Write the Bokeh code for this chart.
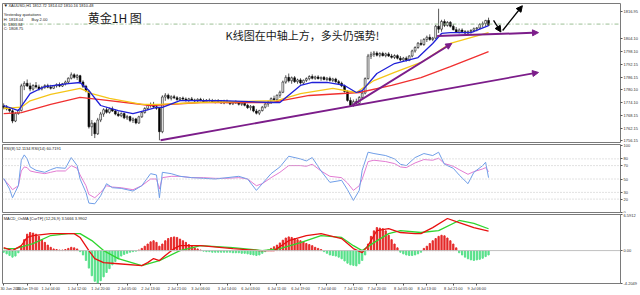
import numpy as np
from bokeh.plotting import figure
from bokeh.layouts import column
from bokeh.models import (Range1d, FixedTicker, PrintfTickFormatter, Span, Arrow,
                          NormalHead, Label, ColumnDataSource)
from bokeh.embed import file_html
from bokeh.resources import INLINE

# ---------------- data (XAUUSD H1) ----------------
open_ = [1772.5,1772.0,1771.2,1770.3,1765.5,1769.0,1770.5,1782.0,1783.2,1782.0,
         1780.5,1782.2,1781.5,1780.6,1781.3,1782.1,1781.4,1780.9,1782.0,1782.6,
         1781.9,1783.0,1783.8,1785.6,1787.2,1786.0,1786.8,1783.8,1781.8,1779.6,
         1762.8,1764.5,1759.5,1766.0,1768.8,1770.8,1769.6,1771.2,1770.2,1768.8,
         1768.0,1769.0,1767.0,1767.6,1765.8,1766.5,1764.6,1767.5,1769.5,1771.4,
         1772.8,1773.2,1772.2,1771.5,1760.5,1776.8,1777.6,1776.2,1776.9,1776.4,
         1775.6,1776.3,1775.8,1775.2,1775.9,1775.4,1774.9,1775.7,1775.1,1774.6,
         1775.3,1775.0,1774.5,1775.1,1774.6,1774.0,1774.8,1774.2,1773.6,1774.4,
         1774.0,1773.4,1773.9,1772.9,1771.8,1772.4,1770.2,1769.2,1770.4,1772.0,
         1773.5,1774.4,1776.0,1775.5,1777.6,1779.0,1783.8,1786.0,1784.4,1785.8,
         1784.0,1784.8,1783.4,1784.6,1785.4,1786.4,1785.6,1786.2,1785.4,1786.0,
         1785.0,1785.6,1784.6,1785.2,1784.0,1783.2,1782.0,1779.4,1775.2,1772.8,
         1774.6,1773.8,1776.6,1778.6,1785.4,1796.0,1796.8,1797.4,1796.4,1797.2,
         1796.2,1797.0,1796.0,1795.4,1796.2,1795.0,1794.2,1795.0,1794.0,1796.0,
         1798.4,1800.0,1802.0,1801.4,1803.8,1804.8,1803.8,1804.4,1810.0,1808.6,
         1812.2,1810.4,1811.8,1810.0,1808.4,1807.2,1808.2,1807.4,1806.8,1807.6,
         1808.0,1808.8,1809.2,1810.8,1811.2,1812.72]
high = [1773.8,1773.0,1772.0,1771.0,1769.8,1771.2,1783.0,1784.2,1785.0,1783.5,
        1782.8,1783.8,1782.6,1782.0,1782.8,1783.0,1782.5,1782.4,1783.2,1783.6,
        1783.4,1784.5,1786.0,1788.3,1787.9,1787.6,1787.2,1784.6,1782.5,1780.0,
        1766.0,1765.0,1767.0,1769.8,1771.5,1772.0,1771.8,1772.3,1771.0,1770.0,
        1769.6,1769.5,1768.4,1768.0,1767.2,1767.0,1768.0,1770.0,1772.0,1773.4,
        1774.2,1774.5,1773.5,1772.0,1777.6,1778.6,1778.4,1777.6,1777.8,1777.2,
        1776.8,1777.0,1776.6,1776.4,1776.8,1776.0,1776.2,1776.4,1776.0,1775.8,
        1776.1,1775.9,1775.6,1775.8,1775.4,1775.5,1775.6,1775.0,1774.8,1775.2,
        1774.6,1774.4,1774.6,1773.6,1773.0,1772.8,1771.2,1770.8,1772.6,1774.0,
        1775.0,1776.6,1777.4,1778.0,1779.8,1784.5,1787.0,1787.8,1786.4,1786.6,
        1785.4,1785.6,1785.0,1786.0,1787.0,1787.4,1786.8,1787.0,1786.4,1786.6,
        1786.2,1786.4,1785.8,1785.8,1784.8,1784.0,1782.6,1780.0,1776.6,1775.6,
        1776.0,1777.2,1779.2,1786.0,1797.0,1798.0,1798.4,1798.2,1797.8,1798.0,
        1797.6,1797.8,1797.0,1796.8,1796.8,1796.0,1795.6,1795.8,1796.4,1799.0,
        1800.6,1802.6,1803.8,1804.4,1805.6,1806.2,1805.0,1810.6,1818.2,1813.0,
        1813.2,1812.4,1812.4,1811.0,1809.6,1809.0,1809.0,1808.2,1808.0,1808.6,
        1809.4,1809.6,1811.4,1812.2,1813.0,1814.02]
low = [1771.0,1770.5,1769.5,1764.5,1765.0,1768.5,1770.0,1780.0,1781.5,1779.5,
       1779.8,1780.8,1779.8,1779.9,1780.6,1780.9,1780.3,1780.5,1781.2,1781.4,
       1781.5,1782.2,1783.2,1785.0,1785.4,1784.8,1783.0,1781.0,1779.0,1762.0,
       1758.5,1757.5,1759.0,1765.0,1767.5,1769.0,1769.0,1769.8,1768.2,1767.5,
       1767.3,1766.4,1766.0,1765.0,1764.6,1764.0,1764.2,1767.0,1769.0,1770.6,
       1771.8,1771.6,1770.8,1756.5,1759.8,1775.0,1775.6,1775.2,1775.8,1775.0,
       1774.9,1775.2,1774.6,1774.5,1775.0,1774.3,1774.5,1774.8,1774.2,1774.0,
       1774.6,1774.1,1773.8,1774.2,1773.6,1773.4,1773.8,1773.0,1773.0,1773.6,
       1772.8,1772.6,1772.4,1771.2,1770.5,1769.6,1768.6,1768.3,1770.0,1771.4,
       1772.2,1773.5,1774.8,1775.0,1776.4,1778.6,1783.0,1783.6,1783.0,1783.4,
       1783.0,1782.6,1782.8,1783.8,1784.6,1785.0,1784.8,1785.0,1784.4,1784.6,
       1784.2,1784.0,1783.8,1783.4,1782.6,1781.4,1778.8,1774.6,1772.2,1772.2,
       1773.2,1773.4,1775.8,1778.0,1785.0,1794.6,1795.6,1795.8,1795.4,1795.8,
       1795.4,1795.6,1794.8,1794.6,1794.4,1793.6,1793.2,1793.4,1793.6,1795.4,
       1797.6,1799.4,1800.8,1800.8,1802.6,1803.2,1803.0,1804.0,1806.8,1807.4,
       1809.6,1809.8,1809.4,1808.0,1806.8,1806.6,1806.8,1806.0,1805.6,1806.6,
       1807.2,1807.6,1808.6,1809.4,1810.0,1810.16]
close = [1772.0,1771.2,1770.3,1765.5,1769.0,1770.5,1782.0,1783.2,1782.0,1780.5,
         1782.2,1781.5,1780.6,1781.3,1782.1,1781.4,1780.9,1782.0,1782.6,1781.9,
         1783.0,1783.8,1785.6,1787.2,1786.0,1786.8,1783.8,1781.8,1779.6,1762.8,
         1764.5,1759.5,1766.0,1768.8,1770.8,1769.6,1771.2,1770.2,1768.8,1768.0,
         1769.0,1767.0,1767.6,1765.8,1766.5,1764.6,1767.5,1769.5,1771.4,1772.8,
         1773.2,1772.2,1771.5,1760.5,1776.8,1777.6,1776.2,1776.9,1776.4,1775.6,
         1776.3,1775.8,1775.2,1775.9,1775.4,1774.9,1775.7,1775.1,1774.6,1775.3,
         1775.0,1774.5,1775.1,1774.6,1774.0,1774.8,1774.2,1773.6,1774.4,1774.0,
         1773.4,1773.9,1772.9,1771.8,1772.4,1770.2,1769.2,1770.4,1772.0,1773.5,
         1774.4,1776.0,1775.5,1777.6,1779.0,1783.8,1786.0,1784.4,1785.8,1784.0,
         1784.8,1783.4,1784.6,1785.4,1786.4,1785.6,1786.2,1785.4,1786.0,1785.0,
         1785.6,1784.6,1785.2,1784.0,1783.2,1782.0,1779.4,1775.2,1772.8,1774.6,
         1773.8,1776.6,1778.6,1785.4,1796.0,1796.8,1797.4,1796.4,1797.2,1796.2,
         1797.0,1796.0,1795.4,1796.2,1795.0,1794.2,1795.0,1794.0,1796.0,1798.4,
         1800.0,1802.0,1801.4,1803.8,1804.8,1803.8,1804.4,1810.0,1808.6,1812.2,
         1810.4,1811.8,1810.0,1808.4,1807.2,1808.2,1807.4,1806.8,1807.6,1808.0,
         1808.8,1809.2,1810.8,1811.2,1812.7,1810.48]

# moving averages (read at sample bars)
fast_bars = [0,5,9,14,22,26,29,33,39,44,48,52,54,60,74,91,94,101,105,110,116,120,122,127,133,141,146,149,152,159,165]
fast_vals = [1772.8,1770.4,1778.4,1781.7,1783.1,1783.6,1779.8,1772.8,1770.4,1769.0,1770.4,1771.9,1771.9,1775.1,1775.1,
             1774.2,1774.2,1782.2,1783.6,1783.6,1782.2,1778.9,1779.8,1787.8,1792.5,1795.3,1801.9,1806.6,1807.0,1807.0,1810.3]
mid_bars = [0,6,9,16,26,30,36,47,53,67,93,101,112,120,126,133,142,152,165]
mid_vals = [1771.4,1772.0,1775.0,1778.0,1780.8,1778.4,1776.1,1773.3,1773.3,1774.2,1775.1,1778.4,1780.8,1778.9,1784.5,
            1788.3,1793.0,1801.9,1807.0]
slow_bars = [0,6,16,26,33,50,67,91,104,121,132,142,152,165]
slow_vals = [1769.0,1769.5,1773.3,1776.6,1775.6,1772.8,1774.2,1774.2,1777.5,1778.9,1782.2,1785.9,1791.0,1798.1]

# RSI
rsi_bars = [0,2,3,5,6,7,8,9,11,14,16,18,21,23,25,26,28,29,31,33,35,37,40,44,47,50,52,53,54,57,
            60,64,68,72,76,80,83,86,88,91,94,97,101,103,105,108,111,115,117,119,121,122,124,126,130,
            133,135,137,140,143,146,148,150,153,155,158,160,163,164,165]
rsi8 = [51,35,22,40,78,86,80,68,63,60,64,67,66,82,70,50,30,14,13,25,43,37,36,32,40,58,56,22,60,58,
        54,52,51,50,52,54,50,33,43,58,68,84,80,77,82,62,45,48,34,18,33,63,90,88,85,80,72,70,82,88,
        85,90,72,66,56,43,60,70,75,52]
rsi14 = [50,40,34,40,62,68,67,62,60,58,60,62,62,70,66,56,40,27,22,30,40,38,37,34,40,50,50,35,52,54,
         54,52,52,51,51,52,50,40,43,52,60,70,70,69,72,62,54,52,44,33,40,50,76,78,76,73,68,67,74,79,
         78,81,73,69,64,57,61,65,67,61]

# MACD
macd_bars = [0,3,6,8,10,16,24,26,29,31,34,39,47,49,51,53,55,58,60,67,78,87,92,97,103,108,115,119,122,124,
             127,131,135,140,142,146,151,155,160,165]
macd_vals = [0.55,0.0,0.9,2.4,2.75,3.1,3.1,2.4,0.0,-1.46,-2.2,-2.4,-2.75,-2.2,-1.46,-1.83,-0.9,0.37,0.9,0.9,
             0.37,0.0,0.0,1.8,2.75,3.1,2.2,0.37,-0.37,0.9,3.66,4.0,3.3,3.1,3.1,4.2,5.86,5.1,4.2,3.57]
sig_bars = [0,4,10,16,22,26,30,34,39,47,53,60,67,78,88,94,101,108,115,119,122,126,131,135,142,148,155,160,165]
sig_vals = [0.37,0.37,1.28,2.75,3.1,3.1,1.83,0.0,-1.46,-2.75,-1.83,0.0,0.9,0.55,0.0,0.37,1.46,2.75,2.4,0.9,
            0.0,1.46,3.1,3.66,3.3,3.66,5.5,4.95,3.99]
osma = [-0.3,-0.6,-0.9,-1.2,-1.0,-0.4,
        0.8,2.0,3.0,3.3,3.2,3.0,2.6,2.0,1.5,1.0,0.6,0.3,0.2,0.1,0.1,0.2,0.4,0.6,0.5,0.3,-0.2,
        -0.8,-1.8,-3.2,-4.6,-5.6,-5.9,-5.5,-4.8,-4.0,-3.3,-2.6,-2.0,-1.5,-1.0,-0.7,-0.5,-0.3,-0.2,-0.1,0.1,
        0.4,0.8,1.2,1.6,1.8,1.5,0.8,1.2,1.8,2.2,2.4,2.5,2.4,2.1,1.8,1.5,1.1,0.8,0.5,0.3,0.1,
        -0.1,-0.2,-0.2,-0.3,-0.3,-0.3,-0.3,-0.3,-0.3,-0.3,-0.4,-0.4,-0.4,-0.5,-0.5,-0.6,-0.7,-0.8,-0.9,-0.8,-0.5,-0.2,0.1,
        0.4,0.7,1.0,1.4,1.9,2.3,2.5,2.4,2.2,2.0,1.8,1.6,1.3,1.1,0.9,0.6,0.4,0.2,-0.2,
        -0.5,-0.8,-0.9,-1.0,-1.2,-1.5,-1.9,-2.3,-2.6,-2.7,-2.8,-2.4,-1.8,-0.8,
        1.2,2.6,3.6,4.2,4.1,4.0,3.6,2.8,2.0,1.2,0.5,
        -0.3,-0.6,-0.8,-0.9,-0.9,-0.8,-0.6,-0.3,
        0.4,0.8,1.3,1.8,2.2,2.6,2.8,2.7,2.3,1.8,1.2,0.5,
        -0.4,-0.8,-1.2,-1.5,-1.7,-1.8,-1.7,-1.6,-1.4,-1.1,-0.8]

# axes labels
price_ticks = [1816.95, 1804.10, 1798.10, 1792.15, 1786.15, 1780.10, 1774.10, 1768.15, 1762.15, 1756.15]
rsi_ticks = [0, 20, 30, 50, 70, 80, 100]
rsi_levels = [20, 30, 50, 70, 80]
time_bars = [0, 8, 16, 25, 33, 42, 50, 59, 67, 76, 84, 93, 101, 110, 119, 127, 136, 144, 153, 161]
time_labels = ["30 Jun 2020", "30 Jun 19:00", "1 Jul 04:00", "1 Jul 12:00", "1 Jul 20:00",
               "2 Jul 05:00", "2 Jul 13:00", "2 Jul 21:00", "3 Jul 06:00", "3 Jul 14:00",
               "6 Jul 03:00", "6 Jul 11:00", "6 Jul 19:00", "7 Jul 04:00", "7 Jul 12:00",
               "7 Jul 20:00", "8 Jul 05:00", "8 Jul 13:00", "8 Jul 21:00", "9 Jul 06:00"]
last_price = 1810.48
ask_line = 1811.0

# ---------------- drawing ----------------
FONT = "Liberation Sans"
CJK = "Noto Sans CJK SC"
N = len(close)
o, h, l, c = map(np.array, (open_, high, low, close))
bull = c >= o
src = ColumnDataSource(dict(x=list(range(N)), h=h, l=l,
                            top=np.maximum(o, c), bottom=np.minimum(o, c),
                            fill=np.where(bull, "white", "black")))

xr = Range1d(-0.4, 209.9)


def pane(height, yr, top, bottom, xaxis=False):
    p = figure(width=640, height=height, x_range=xr, y_range=yr, output_backend="svg",
               toolbar_location=None, x_axis_location=("below" if xaxis else None),
               y_axis_location="right", min_border_left=2, min_border_right=20,
               min_border_top=top, min_border_bottom=bottom)
    p.grid.visible = False
    p.outline_line_color = "#7a7a7a"
    p.background_fill_color = "white"
    p.border_fill_color = "white"
    ax = p.yaxis[0]
    ax.axis_line_color = None
    ax.major_tick_line_color = "#555555"
    ax.major_tick_out = 2
    ax.major_tick_in = 0
    ax.minor_tick_line_color = None
    ax.major_label_text_font_size = "4px"
    ax.major_label_text_font = FONT
    ax.major_label_text_color = "#333333"
    ax.major_label_standoff = 1
    return p


def small(p, x, y, text, size="4.5px", color="#222222", font=FONT, **kw):
    p.add_layout(Label(x=x, y=y, text=text, text_font_size=size, text_font=font,
                       text_color=color, text_baseline="middle", **kw))


# price pane
p1 = pane(143, Range1d(1754.97, 1820.66), 3, 0)
p1.yaxis.ticker = FixedTicker(ticks=price_ticks)
p1.yaxis.formatter = PrintfTickFormatter(format="%.2f")
p1.add_layout(Span(location=ask_line, dimension="width", line_color="#9cbf94",
                   line_dash="4 2 1 2", line_width=1))
p1.segment(x0="x", y0="l", x1="x", y1="h", source=src, line_color="#111111", line_width=0.7)
p1.vbar(x="x", width=0.62, top="top", bottom="bottom", fill_color="fill",
        line_color="#111111", line_width=0.6, source=src)
p1.line(slow_bars, slow_vals, line_color="#f03030", line_width=1.3)
p1.line(mid_bars, mid_vals, line_color="#f5c518", line_width=1.3)
p1.line(fast_bars, fast_vals, line_color="#2020d8", line_width=1.3)

PURPLE = "#7c1d8a"
for xs, ys, xe, ye, w, col in [(53.4, 1756.5, 182, 1788.3, 1.8, PURPLE),
                               (118.7, 1773.0, 152.5, 1801.9, 2.0, PURPLE),
                               (147.5, 1805.4, 182, 1807.0, 2.0, PURPLE),
                               (166.7, 1812.7, 169.2, 1807.3, 1.3, "black"),
                               (169.8, 1808.0, 176.5, 1819.6, 1.3, "black")]:
    p1.add_layout(Arrow(end=NormalHead(size=6, fill_color=col, line_color=col),
                        x_start=xs, y_start=ys, x_end=xe, y_end=ye,
                        line_color=col, line_width=w))

small(p1, 0.2, 1819.6, "\u25bc", size="3px", font=CJK)
small(p1, 1.6, 1819.7, "XAUUSD,H1  1812.72 1814.02 1810.16 1810.48", size="4px")
small(p1, 0.0, 1815.5, "Yesterday quotations", size="4px")
small(p1, 0.0, 1813.2, "H: 1818.04", size="4px")
small(p1, 9.5, 1813.0, "Buy 2.00", size="4px")
small(p1, 0.0, 1811.0, "L: 1803.84", size="4px")
small(p1, 0.0, 1808.9, "C: 1808.75", size="4px")
small(p1, 28.6, 1814.2, "黄金1H 图", size="12px", font=CJK, color="#1a1a1a")
small(p1, 75.5, 1806.1, "K线图在中轴上方，多头仍强势!", size="11px", font=CJK, color="#1a1a1a")
p1.add_layout(Label(x=209.9, y=last_price, text="%.2f" % last_price, text_font_size="4px",
                    text_font=FONT, text_color="white", text_baseline="middle",
                    x_offset=2, background_fill_color="black"))

# RSI pane
p2 = pane(70, Range1d(-1.5, 101.5), 1, 0)
p2.yaxis.ticker = FixedTicker(ticks=rsi_ticks)
p2.yaxis.formatter = PrintfTickFormatter(format="%d")
for lv in rsi_levels:
    p2.add_layout(Span(location=lv, dimension="width", line_color="#c4c4c4",
                       line_dash="1 2", line_width=1))
p2.line(rsi_bars, rsi14, line_color="#e27bd2", line_width=1)
p2.line(rsi_bars, rsi8, line_color="#6f9ee8", line_width=1)
small(p2, 0.0, 95.5, "RSI(8) 52.1134  RSI(14) 60.7191", size="4px")

# MACD pane
p3 = pane(82, Range1d(-6.01, 6.59), 1, 12, xaxis=True)
p3.yaxis.ticker = FixedTicker(ticks=[6.55, 0, -5.97])
p3.yaxis.major_label_overrides = {6.55: "6.5912", 0: "0.00", -5.97: "-4.2049"}
p3.add_layout(Span(location=0, dimension="width", line_color="#c0c0c0", line_width=1))
hsrc = ColumnDataSource(dict(x=list(range(N)), top=osma,
                             col=["#e52a2a" if v >= 0 else "#58e08a" for v in osma]))
p3.vbar(x="x", width=0.42, top="top", bottom=0, fill_color="col", line_color="col", source=hsrc)
p3.line(sig_bars, sig_vals, line_color="#2fd62f", line_width=1.3)
p3.line(macd_bars, macd_vals, line_color="#e81010", line_width=1.3)
small(p3, 0.0, 5.85, "MACD_OsMA [CurTF] (12,26,9) 3.5666 3.9902", size="4px")

xa = p3.xaxis[0]
xa.ticker = FixedTicker(ticks=time_bars)
xa.major_label_overrides = {b: s for b, s in zip(time_bars, time_labels)}
xa.major_label_text_align = "left"
xa.major_label_text_font_size = "3.8px"
xa.major_label_text_font = FONT
xa.major_label_text_color = "#333333"
xa.major_label_standoff = 1
xa.major_tick_out = 2
xa.major_tick_in = 0
xa.minor_tick_line_color = None
xa.axis_line_color = None
xa.major_tick_line_color = "#555555"

layout = column(p1, p2, p3, spacing=0)
open("out.html", "w").write(file_html(layout, INLINE, title="XAUUSD H1"))
